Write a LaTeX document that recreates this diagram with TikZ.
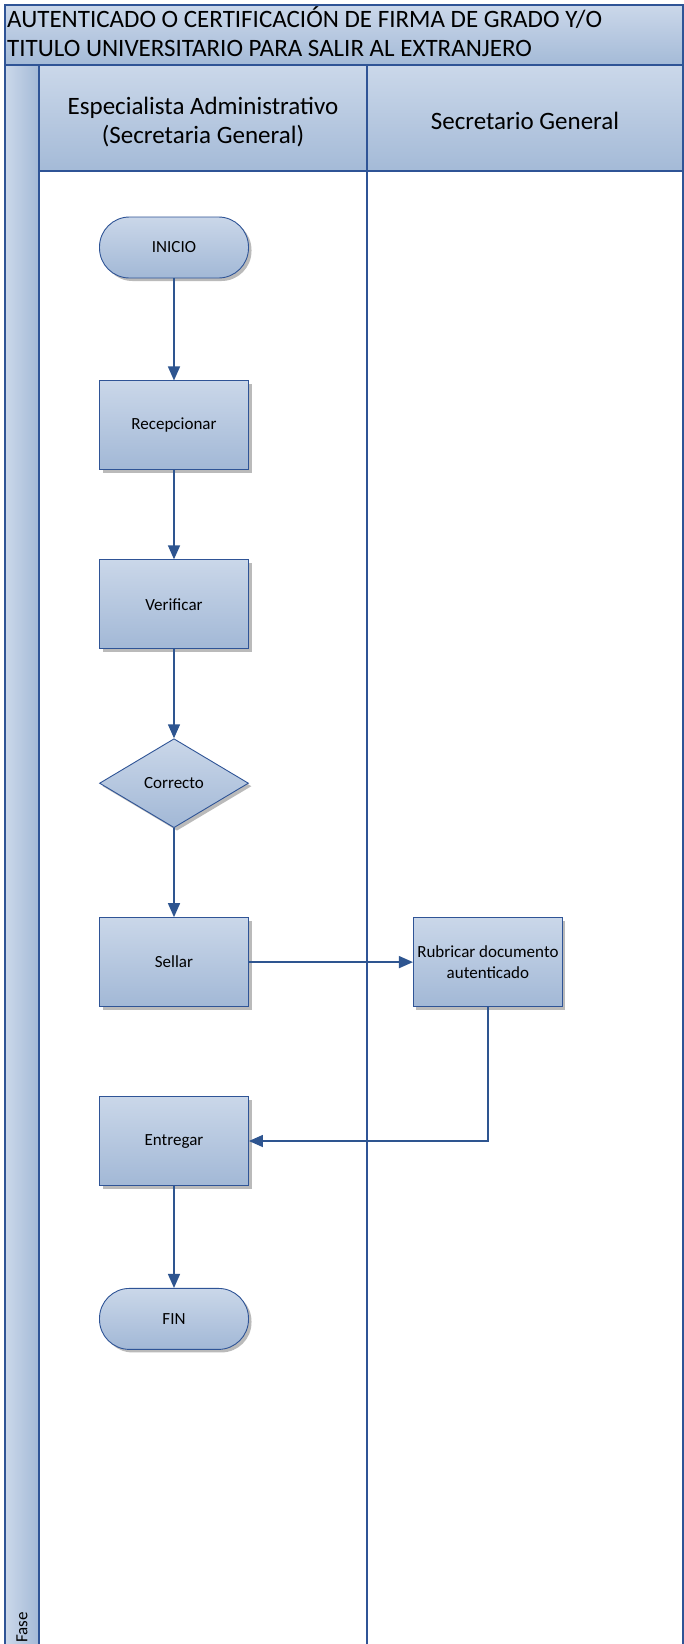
\documentclass[tikz,border=0pt]{standalone}
\usepackage{fontspec}
\setmainfont{Carlito}
\usetikzlibrary{shapes.geometric,arrows.meta,positioning,shadows}
\definecolor{laneline}{HTML}{2F5496}
\definecolor{flowline}{HTML}{2E5590}
\definecolor{boxtop}{HTML}{CAD7E9}
\definecolor{boxbot}{HTML}{A2B8D6}
\definecolor{bandtop}{HTML}{CBD8EA}
\definecolor{bandbot}{HTML}{A4BAD7}

\begin{document}
\begin{tikzpicture}[
    x=1pt, y=1pt,
    node distance=89pt,
    process/.style={rectangle, draw=laneline, line width=0.9pt, top color=boxtop, bottom color=boxbot, minimum width=149pt, minimum height=89pt, inner sep=2pt, text centered, align=center, font=\fontsize{17}{21}\selectfont, drop shadow={shadow xshift=3pt, shadow yshift=-3pt, fill=black!45, opacity=0.6}},
    terminal/.style={process, rounded corners=30pt, minimum height=61pt},
    decision/.style={process, diamond, aspect=1.67, inner sep=0pt},
    head/.style={font=\fontsize{25}{29}\selectfont, align=center},
    arrow/.style={-{Triangle[length=14pt,width=12pt]}, line width=1.5pt, draw=flowline}
]
\useasboundingbox (0,0) rectangle (683,-1644);
\fill[white] (0,0) rectangle (683,-1644);

% lanes
\shade[top color=bandtop, bottom color=bandbot] (5,-5) rectangle (683,-65);
\shade[top color=bandtop, bottom color=bandbot] (38.8,-65) rectangle (683,-171);
\shade[left color=bandtop, right color=bandbot] (5,-65) rectangle (38.8,-1644);
\draw[laneline, line width=1.5pt] (5,-1644) -- (5,-5) -- (683,-5) -- (683,-1644);
\draw[laneline, line width=1.5pt] (5,-65) -- (683,-65);
\draw[laneline, line width=1.5pt] (38.8,-171) -- (683,-171);
\draw[laneline, line width=1.5pt] (38.8,-65) -- (38.8,-1644);
\draw[laneline, line width=1.5pt] (367,-65) -- (367,-1644);

\node[font=\fontsize{25}{29}\selectfont, anchor=base west, inner sep=0pt] (title1) at (7,-27) {AUTENTICADO O CERTIFICACIÓN DE FIRMA DE GRADO Y/O};
\node[font=\fontsize{25}{29}\selectfont, anchor=base west, inner sep=0pt] (title2) at (7,-56) {TITULO UNIVERSITARIO PARA SALIR AL EXTRANJERO};
\node[head] (especialista) at (203,-122) {Especialista Administrativo\\(Secretaria General)};
\node[head] (secretario) at (525,-120.5) {Secretario General};
\node[rotate=90, anchor=west, inner sep=1pt, font=\fontsize{17}{20}\selectfont] (fase) at (22,-1644) {Fase};

% flow
\node[terminal] (inicio) at (174,-247.5) {INICIO};
\node[process, below=102pt of inicio] (recepcionar) {Recepcionar};
\node[process, below=of recepcionar] (verificar) {Verificar};
\node[decision, below=of verificar] (correcto) {Correcto};
\node[process, below=of correcto] (sellar) {Sellar};
\node[process, right=164pt of sellar] (rubricar) {Rubricar documento\\autenticado};
\node[process, below=of sellar] (entregar) {Entregar};
\node[terminal, below=102pt of entregar] (fin) {FIN};

\draw[arrow] (inicio) -- (recepcionar);
\draw[arrow] (recepcionar) -- (verificar);
\draw[arrow] (verificar) -- (correcto);
\draw[arrow] (correcto) -- (sellar);
\draw[arrow] (sellar) -- (rubricar);
\draw[arrow] (rubricar) |- (entregar);
\draw[arrow] (entregar) -- (fin);
\end{tikzpicture}
\end{document}
